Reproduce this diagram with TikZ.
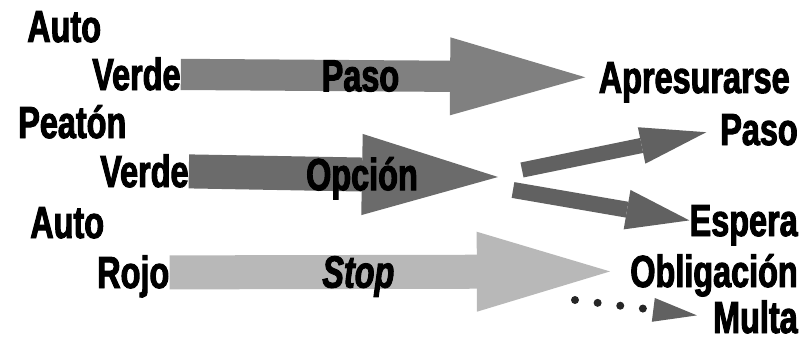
\documentclass[tikz,border=0pt]{standalone}
\usepackage{fontspec}
\newfontfamily\heavyfont[FakeStretch=0.72, FakeBold=2.2]{Liberation Sans}
\usepackage{tikz}
\usetikzlibrary{arrows.meta, calc}

\begin{document}
\begin{tikzpicture}[
    x=0.025cm, y=-0.025cm,
    word/.style={font=\fontsize{32}{34}\heavyfont\bfseries, inner sep=0pt, text height=0.78cm, text depth=0pt},
    slanted/.style={word, font=\fontsize{32}{34}\heavyfont\bfseries\itshape},
    blk/.style n args={4}{line width=#1, draw=#4, -{Triangle[length=#2, width=#3, line width=0pt]}},
    dotline/.style={draw=black!85, line width=0.2cm, line cap=round, dash pattern=on 0pt off 0.57cm, -{Triangle[length=1.1cm, width=0.6cm, line width=0pt, color=black!62]}},
]
\useasboundingbox (0,0) rectangle (805,342);

\node[word, anchor=base west] (auto1) at (27,42) {Auto};
\node[word, anchor=base west] (verde1) at (92,90) {Verde};
\node[word, anchor=base west] (peaton) at (18,138) {Peatón};
\node[word, anchor=base west] (verde2) at (100,187) {Verde};
\node[word, anchor=base west] (auto2) at (30,238) {Auto};
\node[word, anchor=base west] (rojo) at (97,288) {Rojo};

\node[word, anchor=base east] (apres) at (790,93) {Apresurarse};
\node[word, anchor=base east] (paso) at (798,145) {Paso};
\node[word, anchor=base east] (espera) at (798,236) {Espera};
\node[word, anchor=base east] (oblig) at (798,287) {Obligación};
\node[word, anchor=base east] (multa) at (798,333) {Multa};

\coordinate (fork) at (498,177);
\coordinate (upstart) at (522,170);
\coordinate (downstart) at (513,190);
\coordinate (dots) at (575,300);

\draw[blk={0.78cm}{3.38cm}{1.95cm}{black!50}, shorten >=0.33cm] (verde1.east) -- node[word, pos=0.43] (pasolbl) {Paso} (apres.west);
\draw[blk={0.85cm}{3.4cm}{2.03cm}{black!58}] (verde2.east) -- node[word, pos=0.56] (opcion) {Opción} (fork);
\draw[blk={0.85cm}{3.33cm}{2cm}{black!28}, shorten >=0.5cm] (rojo.east) -- node[slanted, pos=0.41] (stop) {Stop} (oblig.west);

\draw[blk={0.38cm}{1.65cm}{0.93cm}{black!62}, shorten >=0.35cm] (upstart) -- (paso.west);
\draw[blk={0.4cm}{1.58cm}{1cm}{black!62}] (downstart) -- (espera.west);
\draw[dotline, shorten >=0.4cm] (dots) -- (multa.west);
\end{tikzpicture}
\end{document}
